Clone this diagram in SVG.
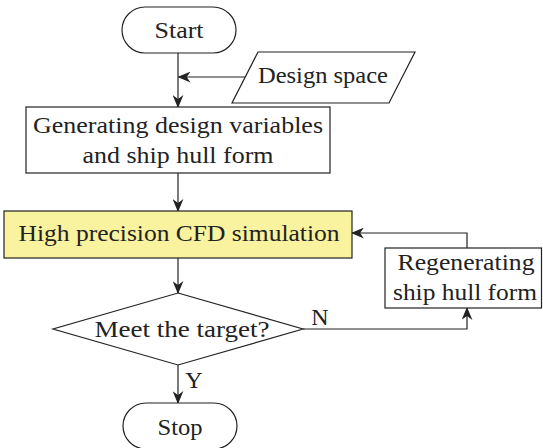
<svg xmlns="http://www.w3.org/2000/svg" width="543" height="448" viewBox="0 0 543 448">
<style>
.s{fill:#fff;stroke:#222;stroke-width:1.2}
.y{fill:#f9f29f;stroke:#222;stroke-width:1.2}
.c{fill:none;stroke:#222;stroke-width:1.2}
text{font-family:'Liberation Serif','Times New Roman',serif;font-size:24px;fill:#222;text-anchor:middle}
</style>
<defs>
<marker id="ah" viewBox="0 0 12 10" refX="11" refY="5" markerWidth="13" markerHeight="11" markerUnits="userSpaceOnUse" orient="auto">
<path d="M0,0 L12,5 L0,10 L3.5,5 Z" fill="#222"/>
</marker>
</defs>
<rect width="543" height="448" fill="#fff"/>
<g id="connectors">
<path class="c" d="M178,53 V107" marker-end="url(#ah)"/>
<path class="c" d="M245,77 H178.6" marker-end="url(#ah)"/>
<path class="c" d="M178,173 V211" marker-end="url(#ah)"/>
<path class="c" d="M178,258 V293" marker-end="url(#ah)"/>
<path class="c" d="M303,329 H467 V308" marker-end="url(#ah)"/>
<path class="c" d="M467,248 V233 H352" marker-end="url(#ah)"/>
<path class="c" d="M178,365 V403" marker-end="url(#ah)"/>
<text x="320" y="325" font-family="Liberation Serif, serif">N</text>
<text x="194" y="388" font-family="Liberation Serif, serif">Y</text>
</g>
<g id="start">
<rect class="s" x="122" y="7" width="114" height="46" rx="23"/>
<text x="179" y="38" textLength="49" lengthAdjust="spacingAndGlyphs" font-family="Liberation Serif, serif">Start</text>
</g>
<g id="design-space">
<polygon class="s" points="258,52 415,52 389,103 232,103"/>
<text x="323" y="83" textLength="130" lengthAdjust="spacingAndGlyphs" font-family="Liberation Serif, serif">Design space</text>
</g>
<g id="generating">
<rect class="s" x="26" y="107" width="304" height="66"/>
<text x="178" y="133" textLength="290" lengthAdjust="spacingAndGlyphs" font-family="Liberation Serif, serif">Generating design variables</text>
<text x="178" y="163" textLength="191" lengthAdjust="spacingAndGlyphs" font-family="Liberation Serif, serif">and ship hull form</text>
</g>
<g id="cfd">
<rect class="y" x="4" y="211" width="348" height="47"/>
<text x="179" y="241" textLength="321" lengthAdjust="spacingAndGlyphs" font-family="Liberation Serif, serif">High precision CFD simulation</text>
</g>
<g id="regenerating">
<rect class="s" x="385" y="248" width="156.5" height="60"/>
<text x="466" y="270" textLength="137" lengthAdjust="spacingAndGlyphs" font-family="Liberation Serif, serif">Regenerating</text>
<text x="465" y="300" textLength="144" lengthAdjust="spacingAndGlyphs" font-family="Liberation Serif, serif">ship hull form</text>
</g>
<g id="decision">
<polygon class="s" points="178,293 303,329 178,365 53,329"/>
<text x="182" y="337" textLength="175" lengthAdjust="spacingAndGlyphs" font-family="Liberation Serif, serif">Meet the target?</text>
</g>
<g id="stop">
<rect class="s" x="123" y="403" width="114" height="46" rx="23"/>
<text x="180" y="435" textLength="45" lengthAdjust="spacingAndGlyphs" font-family="Liberation Serif, serif">Stop</text>
</g>
</svg>
